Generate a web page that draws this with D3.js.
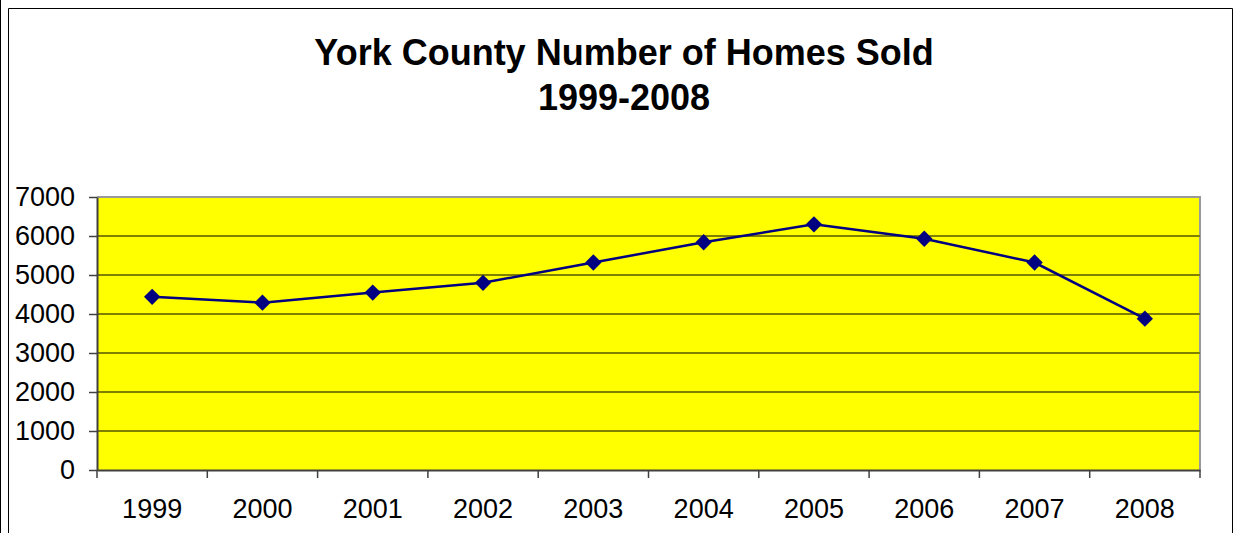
<!DOCTYPE html>
<meta charset="utf-8">
<style>
body { margin: 0; background: #fff; }
text { font-family: Arial, "Liberation Sans", sans-serif; fill: #000; }
</style>
<svg width="1236" height="533"></svg>
<script src="https://d3js.org/d3.v7.min.js"></script>
<script>

var years = ["1999", "2000", "2001", "2002", "2003", "2004", "2005", "2006", "2007", "2008"];
var homesSold = [4440, 4290, 4550, 4800, 5320, 5840, 6300, 5930, 5320, 3880];
var yTicks = [0, 1000, 2000, 3000, 4000, 5000, 6000, 7000];
var titleLines = ["York County Number of Homes Sold", "1999-2008"];

var svg = d3.select("svg");

var plot = { left: 97, top: 197, right: 1200, bottom: 470 };

// outer frame like the spreadsheet chart area
svg.append("line")
    .attr("x1", 0.5).attr("x2", 0.5).attr("y1", 0).attr("y2", 533)
    .attr("stroke", "#000").attr("stroke-width", 1);
svg.append("path")
    .attr("d", "M8.5,533V8.5H1232.5V533")
    .attr("fill", "none")
    .attr("stroke", "#000")
    .attr("stroke-width", 1);

/************* TITLE ***************/
svg.selectAll(".title")
    .data(titleLines)
    .enter().append("text")
      .attr("class", "title")
      .attr("x", 624)
      .attr("y", function(d, i) { return 65 + i * 45; })
      .attr("text-anchor", "middle")
      .style("font-size", "36px")
      .style("font-weight", "bold")
      .text(function(d) { return d; });

/************* SCALES ***************/
var x = d3.scaleBand()
    .domain(years)
    .range([plot.left, plot.right]);

var y = d3.scaleLinear()
    .domain([0, 7000])
    .range([plot.bottom, plot.top]);

// plot background
svg.append("rect")
    .attr("x", plot.left)
    .attr("y", plot.top)
    .attr("width", plot.right - plot.left)
    .attr("height", plot.bottom - plot.top)
    .attr("fill", "#ffff00");

// border top/right in grey
svg.append("path")
    .attr("d", "M" + plot.left + "," + plot.top + "H" + plot.right + "V" + plot.bottom)
    .attr("fill", "none")
    .attr("stroke", "#999")
    .attr("stroke-width", 2);

/************* GRIDLINES ***************/
svg.append("g")
  .selectAll("line")
  .data(yTicks.filter(function(d) { return d > 0 && d < 7000; }))
  .enter().append("line")
    .attr("x1", plot.left)
    .attr("x2", plot.right)
    .attr("y1", function(d) { return y(d); })
    .attr("y2", function(d) { return y(d); })
    .attr("stroke", "#808000")
    .attr("stroke-width", 2);

/************* AXES ***************/
var yAxis = svg.append("g")
    .attr("transform", "translate(" + plot.left + ",0)")
    .call(d3.axisLeft(y).tickValues(yTicks).tickFormat(d3.format("d"))
      .tickSize(8).tickPadding(14).tickSizeOuter(0));

yAxis.select(".domain").attr("stroke", "#404040").attr("stroke-width", 2);
yAxis.selectAll(".tick line").attr("stroke", "#404040").attr("stroke-width", 1.5);
yAxis.selectAll(".tick text")
    .style("font-size", "27px")
    .style("font-family", "Arial, 'Liberation Sans', sans-serif")
    .attr("fill", "#000");

var xAxis = svg.append("g")
    .attr("transform", "translate(0," + plot.bottom + ")")
    .call(d3.axisBottom(x).tickSize(0).tickPadding(29).tickSizeOuter(0));

xAxis.select(".domain").attr("stroke", "#404040").attr("stroke-width", 2);
xAxis.selectAll(".tick text")
    .style("font-size", "27px")
    .style("font-family", "Arial, 'Liberation Sans', sans-serif")
    .attr("fill", "#000");

// category boundary ticks
svg.append("g")
  .selectAll("line")
  .data(years.concat(["end"]))
  .enter().append("line")
    .attr("x1", function(d, i) { return plot.left + i * x.step(); })
    .attr("x2", function(d, i) { return plot.left + i * x.step(); })
    .attr("y1", plot.bottom)
    .attr("y2", plot.bottom + 8)
    .attr("stroke", "#404040")
    .attr("stroke-width", 1.5);

/************* LINE ***************/
var points = years.map(function(d, i) { return { year: d, value: homesSold[i] }; });

var line = d3.line()
    .x(function(d) { return x(d.year) + x.bandwidth() / 2; })
    .y(function(d) { return y(d.value); });

svg.append("path")
    .datum(points)
    .attr("d", line)
    .attr("fill", "none")
    .attr("stroke", "#000080")
    .attr("stroke-width", 2.5);

svg.append("g")
  .selectAll("path")
  .data(points)
  .enter().append("path")
    .attr("d", d3.symbol().type(d3.symbolDiamond2).size(170))
    .attr("transform", function(d) {
      return "translate(" + (x(d.year) + x.bandwidth() / 2) + "," + y(d.value) + ")";
    })
    .attr("fill", "#000080");

</script>
